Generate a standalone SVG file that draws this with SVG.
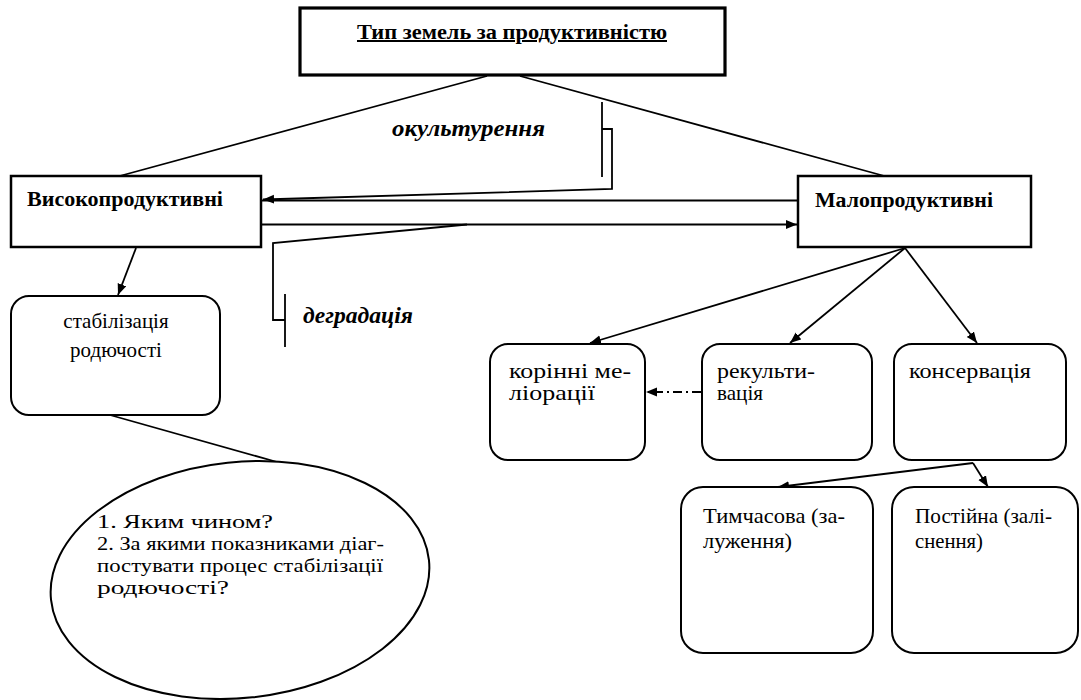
<svg xmlns="http://www.w3.org/2000/svg" width="1081" height="700" viewBox="0 0 1081 700" font-family="'Liberation Serif', 'Times New Roman', 'DejaVu Serif', serif">
<defs>
<style>
.bx{fill:#fff;stroke:#000;stroke-width:2.5}
.rb{fill:#fff;stroke:#000;stroke-width:2}
.ln{fill:none;stroke:#000;stroke-width:1.8}
.t{font-size:21px;fill:#000}
.q{font-size:19px;fill:#000}
.b{font-weight:bold;font-size:20px}
.bi{font-weight:bold;font-style:italic;font-size:23px}
</style>
<marker id="ah" markerUnits="userSpaceOnUse" markerWidth="12" markerHeight="10" refX="11" refY="4.5" orient="auto">
<path d="M0,0 L11,4.5 L0,9 z" fill="#000"/>
</marker>
</defs>
<rect width="1081" height="700" fill="#fff"/>

<g id="connectors">
<line class="ln" x1="487" y1="76" x2="116" y2="177"/>
<line class="ln" x1="520" y1="76" x2="888" y2="177"/>
<line class="ln" x1="602" y1="102" x2="602" y2="177"/>
<polyline class="ln" points="602,129 612,129 612,189 263,199.5" marker-end="url(#ah)"/>
<line class="ln" x1="262" y1="200.5" x2="798" y2="200.5"/>
<line class="ln" x1="262" y1="224.5" x2="797" y2="224.5" marker-end="url(#ah)"/>
<polyline class="ln" points="467,224.5 273,243 273,320 285,320"/>
<line class="ln" x1="285" y1="294" x2="285" y2="347"/>
<line class="ln" x1="136" y1="248" x2="118" y2="295" marker-end="url(#ah)"/>
<line class="ln" x1="110" y1="415" x2="277" y2="462"/>
<line class="ln" x1="905" y1="248" x2="590" y2="343" marker-end="url(#ah)"/>
<line class="ln" x1="905" y1="248" x2="790" y2="343" marker-end="url(#ah)"/>
<line class="ln" x1="905" y1="248" x2="977" y2="343" marker-end="url(#ah)"/>
<line class="ln" x1="701" y1="392" x2="646" y2="392" stroke-dasharray="9,4,2,4" marker-end="url(#ah)"/>
<line class="ln" x1="973" y1="463" x2="778" y2="487" marker-end="url(#ah)"/>
<line class="ln" x1="973" y1="463" x2="988" y2="487" marker-end="url(#ah)"/>
</g>

<g id="labels">
<text class="t bi" x="392" y="136" textLength="153" lengthAdjust="spacingAndGlyphs">окультурення</text>
<text class="t bi" x="303" y="323" textLength="110" lengthAdjust="spacingAndGlyphs">деградація</text>
</g>

<g id="node-top">
<rect x="300" y="8" width="425" height="67" fill="#fff" stroke="#000" stroke-width="3.2"/>
<text class="t b" x="357" y="39" text-decoration="underline" textLength="310" lengthAdjust="spacingAndGlyphs">Тип земель за продуктивністю</text>
</g>

<g id="node-high">
<rect class="bx" x="11" y="176" width="250" height="71"/>
<text class="t b" x="27" y="206" textLength="196" lengthAdjust="spacingAndGlyphs">Високопродуктивні</text>
</g>

<g id="node-low">
<rect class="bx" x="798" y="176" width="233" height="71"/>
<text class="t b" x="815" y="207" textLength="178" lengthAdjust="spacingAndGlyphs">Малопродуктивні</text>
</g>

<g id="node-stab">
<rect class="rb" x="11" y="296" width="209" height="119" rx="18"/>
<text class="t" x="116" y="328" text-anchor="middle">стабілізація</text>
<text class="t" x="116" y="357" text-anchor="middle">родючості</text>
</g>

<g id="node-questions">
<ellipse class="rb" cx="240" cy="580" rx="190" ry="118" transform="rotate(-6 240 580)"/>
<text class="q" x="97" y="528" textLength="176" lengthAdjust="spacingAndGlyphs">1. Яким чином?</text>
<text class="q" x="97" y="550" textLength="287" lengthAdjust="spacingAndGlyphs">2. За якими показниками діаг-</text>
<text class="q" x="97" y="572" textLength="286" lengthAdjust="spacingAndGlyphs">постувати процес стабілізації</text>
<text class="q" x="97" y="594" textLength="132" lengthAdjust="spacingAndGlyphs">родючості?</text>
</g>

<g id="node-melior">
<rect class="rb" x="490" y="344" width="155" height="116" rx="18"/>
<text class="t" x="509" y="378" textLength="122" lengthAdjust="spacingAndGlyphs">корінні ме-</text>
<text class="t" x="509" y="400" textLength="86" lengthAdjust="spacingAndGlyphs">ліорації</text>
</g>

<g id="node-recult">
<rect class="rb" x="702" y="344" width="170" height="116" rx="18"/>
<text class="t" x="717" y="378" textLength="98" lengthAdjust="spacingAndGlyphs">рекульти-</text>
<text class="t" x="717" y="400" textLength="46" lengthAdjust="spacingAndGlyphs">вація</text>
</g>

<g id="node-conserv">
<rect class="rb" x="894" y="344" width="172" height="116" rx="18"/>
<text class="t" x="909" y="378" textLength="122" lengthAdjust="spacingAndGlyphs">консервація</text>
</g>

<g id="node-temp">
<rect class="rb" x="681" y="487" width="192" height="166" rx="22"/>
<text class="t" x="703" y="523" textLength="142" lengthAdjust="spacingAndGlyphs">Тимчасова (за-</text>
<text class="t" x="703" y="548" textLength="89" lengthAdjust="spacingAndGlyphs">луження)</text>
</g>

<g id="node-perm">
<rect class="rb" x="892" y="487" width="186" height="166" rx="22"/>
<text class="t" x="915" y="523" textLength="137" lengthAdjust="spacingAndGlyphs">Постійна (залі-</text>
<text class="t" x="915" y="548" textLength="68" lengthAdjust="spacingAndGlyphs">снення)</text>
</g>
</svg>
